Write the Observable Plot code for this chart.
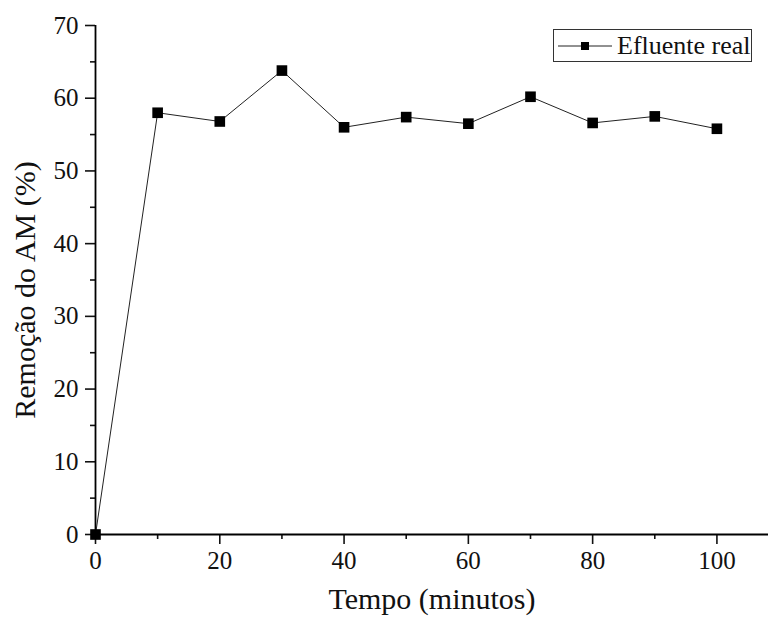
<!DOCTYPE html>
<html>
<head>
<meta charset="utf-8">
<script src="https://cdn.jsdelivr.net/npm/d3@7"></script>
<script src="https://cdn.jsdelivr.net/npm/@observablehq/plot@0.6"></script>
<style>
  html, body { margin: 0; padding: 0; background: #fff; }
  #wrap { position: relative; width: 771px; height: 624px; }
  #legend {
    position: absolute; left: 553px; top: 29px; width: 199px; height: 33px;
    border: 1px solid #333; box-sizing: border-box; background: #fff;
    font-family: "Liberation Serif", "Times New Roman", serif; font-size: 26px;
    display: flex; align-items: center; color: #111; white-space: nowrap;
  }
  #legend svg { display: block; margin-left: 4px; margin-right: 5px; }
</style>
</head>
<body>
<div id="wrap"></div>
<script>
const tempo = [0, 10, 20, 30, 40, 50, 60, 70, 80, 90, 100];
const remocao = [0, 58.0, 56.8, 63.8, 56.0, 57.4, 56.5, 60.2, 56.6, 57.5, 55.8];
const seriesName = "Efluente real";
const xMajorTicks = [0, 20, 40, 60, 80, 100];
const xMinorTicks = [10, 30, 50, 70, 90];
const yMajorTicks = [0, 10, 20, 30, 40, 50, 60, 70];
const yMinorTicks = [5, 15, 25, 35, 45, 55, 65];
const xTitle = "Tempo (minutos)";
const yTitle = "Remoção do AM (%)";

const data = tempo.map((t, i) => ({tempo: t, remocao: remocao[i]}));
const font = "'Liberation Serif', 'Times New Roman', serif";

const chart = Plot.plot({
  width: 771,
  height: 624,
  marginLeft: 95,
  marginRight: 3,
  marginTop: 25,
  marginBottom: 90,
  style: {fontFamily: font, fontSize: "25px", color: "#111", background: "#fff"},
  x: {domain: [0, 108.3]},
  y: {domain: [0, 70]},
  marks: [
    Plot.axisX({ticks: xMajorTicks, tickSize: 10, tickPadding: 7, strokeWidth: 1.6, label: null, fontSize: 25}),
    Plot.axisX({ticks: xMinorTicks, tickSize: 5, text: null, strokeWidth: 1.6, label: null}),
    Plot.axisY({ticks: yMajorTicks, tickSize: 10, tickPadding: 7, strokeWidth: 1.6, label: null, fontSize: 25}),
    Plot.axisY({ticks: yMinorTicks, tickSize: 5, text: null, strokeWidth: 1.6, label: null}),
    Plot.ruleX([0], {stroke: "#000", strokeWidth: 1.8}),
    Plot.ruleY([0], {stroke: "#000", strokeWidth: 1.8}),
    Plot.line(data, {x: "tempo", y: "remocao", stroke: "#222", strokeWidth: 1}),
    Plot.dot(data, {x: "tempo", y: "remocao", symbol: "square", r: 6, fill: "#000", stroke: "none"}),
    Plot.text([xTitle], {frameAnchor: "bottom", textAnchor: "middle", dy: 74, fontSize: 30, fill: "#111", fontFamily: font}),
    Plot.text([yTitle], {frameAnchor: "left", textAnchor: "middle", dx: -70, dy: 10, rotate: -90, fontSize: 30, fill: "#111", fontFamily: font})
  ]
});

const wrap = document.getElementById("wrap");
wrap.appendChild(chart);

const legend = document.createElement("div");
legend.id = "legend";
legend.innerHTML = `<svg width="54" height="12"><line x1="0" y1="6" x2="54" y2="6" stroke="#222" stroke-width="1"/><rect x="23" y="2" width="8" height="8" fill="#000"/></svg><span>${seriesName}</span>`;
wrap.appendChild(legend);
</script>
</body>
</html>
